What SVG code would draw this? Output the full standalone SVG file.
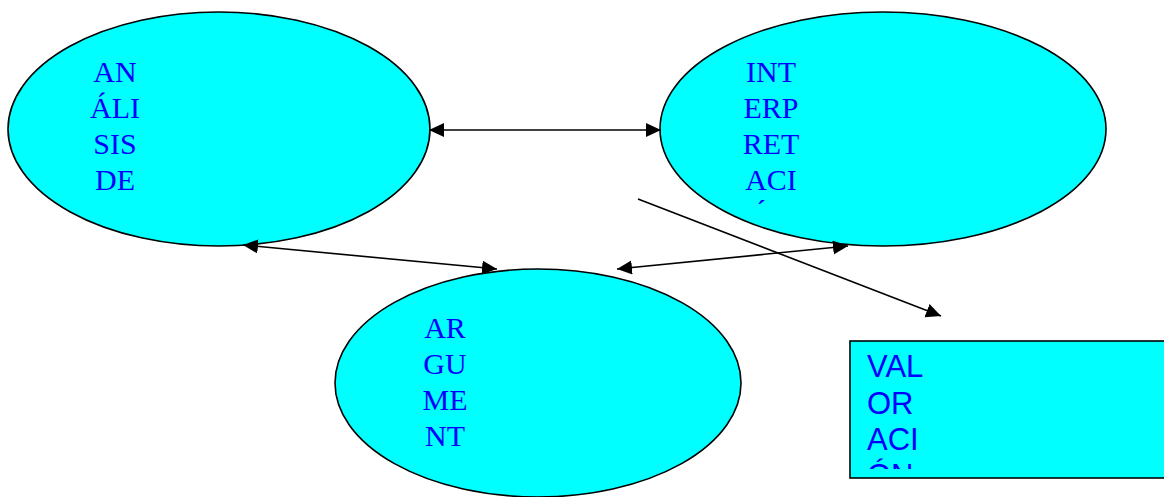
<svg xmlns="http://www.w3.org/2000/svg" width="1164" height="497" viewBox="0 0 1164 497">
<style>
.node{fill:#00FFFF;stroke:#000;stroke-width:1.6}
.tt{font-family:"Liberation Serif",serif;font-size:30px;fill:#0000FF;text-anchor:middle}
.ta{font-family:"Liberation Sans",sans-serif;font-size:31px;fill:#0000FF}
.conn{stroke:#000;stroke-width:1.6;fill:none}
</style>
<defs>
<marker id="ah" markerUnits="userSpaceOnUse" markerWidth="17" markerHeight="15" refX="15" refY="7" orient="auto-start-reverse">
<path d="M0,0 L15,7 L0,14 z" fill="#000"/>
</marker>
<clipPath id="c1"><rect x="60" y="40" width="120" height="170"/></clipPath>
<clipPath id="c2"><rect x="710" y="40" width="120" height="164"/></clipPath>
<clipPath id="c3"><rect x="390" y="300" width="120" height="160"/></clipPath>
<clipPath id="c4"><rect x="851" y="342" width="313" height="127"/></clipPath>
</defs>
<g id="analisis">
<ellipse class="node" cx="219" cy="129" rx="211" ry="117"/>
<g clip-path="url(#c1)">
<text class="tt" x="115" y="82">AN</text>
<text class="tt" x="115" y="118">ÁLI</text>
<text class="tt" x="115" y="154">SIS</text>
<text class="tt" x="115" y="190">DE</text>
</g>
</g>
<g id="interpretacion">
<ellipse class="node" cx="883" cy="129" rx="223" ry="117"/>
<g clip-path="url(#c2)">
<text class="tt" x="771" y="82">INT</text>
<text class="tt" x="771" y="118">ERP</text>
<text class="tt" x="771" y="154">RET</text>
<text class="tt" x="771" y="190">ACI</text>
<text class="tt" x="771" y="226">ÓN</text>
</g>
</g>
<g id="argumentacion">
<ellipse class="node" cx="538" cy="383" rx="203" ry="114"/>
<g clip-path="url(#c3)">
<text class="tt" x="445" y="338">AR</text>
<text class="tt" x="445" y="374">GU</text>
<text class="tt" x="445" y="410">ME</text>
<text class="tt" x="445" y="446">NT</text>
</g>
</g>
<g id="valoracion">
<rect class="node" x="850" y="341" width="320" height="137" stroke-width="2.5"/>
<g clip-path="url(#c4)">
<text class="ta" x="867" y="377">VAL</text>
<text class="ta" x="867" y="414">OR</text>
<text class="ta" x="867" y="450">ACI</text>
<text class="ta" x="867" y="486">ÓN</text>
</g>
</g>
<g id="connectors">
<line class="conn" x1="429" y1="130" x2="661" y2="130" marker-start="url(#ah)" marker-end="url(#ah)"/>
<line class="conn" x1="243" y1="245" x2="497" y2="269" marker-start="url(#ah)" marker-end="url(#ah)"/>
<line class="conn" x1="617" y1="269" x2="848" y2="246" marker-start="url(#ah)" marker-end="url(#ah)"/>
<line class="conn" x1="638" y1="199" x2="941" y2="316" marker-end="url(#ah)"/>
</g>
</svg>
